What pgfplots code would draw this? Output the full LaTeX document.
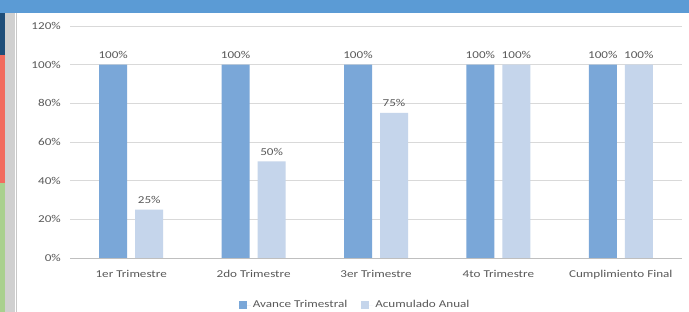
\documentclass[border=0pt]{standalone}
\usepackage{pgfplots}
\pgfplotsset{compat=1.18}
\usepackage{fontspec}
\setmainfont[FakeStretch=1.25]{Carlito}
\definecolor{darkbar}{HTML}{7AA7D8}
\definecolor{lightbar}{HTML}{C5D5EB}
\definecolor{txt}{HTML}{595959}
\definecolor{gridc}{HTML}{D9D9D9}
\definecolor{hdr}{HTML}{5B9BD5}
\definecolor{navy}{HTML}{1F4E79}
\definecolor{redstrip}{HTML}{F26B5E}
\definecolor{greenstrip}{HTML}{A9D08E}
\definecolor{greystrip}{HTML}{D0D0D0}
\definecolor{borderc}{HTML}{C8C8C8}
\definecolor{axisc}{HTML}{BFBFBF}
\begin{document}
\begin{tikzpicture}[x=1pt,y=1pt]
\useasboundingbox (0,0) rectangle (689,312);
\fill[white] (0,0) rectangle (689,312);
% screenshot decoration
\fill[hdr] (0,299) rectangle (689,312);
\fill[navy] (0,257) rectangle (5,299);
\fill[redstrip] (0,129) rectangle (5,257);
\fill[greenstrip] (0,0) rectangle (5,129);
\fill[greystrip] (5,0) rectangle (15,299);
\draw[borderc] (16,0) -- (16,299);
\begin{axis}[
  at={(70pt,54pt)}, anchor=south west,
  scale only axis, width=612pt, height=232pt,
  ybar=8pt, bar width=28pt,
  xmin=-0.5, xmax=4.5, ymin=0, ymax=120,
  xtick={0,1,2,3,4},
  xticklabels={1er Trimestre,2do Trimestre,3er Trimestre,4to Trimestre,Cumplimiento Final},
  major x tick style={draw=none},
  extra x ticks={-0.5,0.5,1.5,2.5,3.5,4.5},
  extra x tick labels={},
  extra x tick style={grid=none, major tick length=4pt, tick align=outside, tick style={draw=axisc}},
  ytick={0,20,...,120},
  yticklabel={\pgfmathprintnumber{\tick}\%},
  /pgf/number format/assume math mode=true,
  ymajorgrids, grid style={gridc, line width=0.8pt},
  major y tick style={draw=none},
  axis x line*=bottom,
  axis y line*=left,
  x axis line style={draw=axisc, line width=0.8pt, -},
  y axis line style={draw=none, -},
  ticklabel style={font=\fontsize{10.5}{12}\selectfont, text=txt},
  yticklabel style={inner sep=0pt, xshift=-9pt},
  xticklabel style={inner sep=0pt, yshift=-8pt},
  nodes near coords={\pgfmathprintnumber{\pgfplotspointmeta}\%},
  nodes near coords style={font=\fontsize{10.5}{12}\selectfont, text=txt, inner sep=0pt, yshift=6pt, /pgf/number format/assume math mode=true},
  legend style={at={(0.466,-0.203)}, anchor=center, draw=none, legend columns=2,
    font=\fontsize{10.5}{12}\selectfont, text=txt, /tikz/every even column/.append style={column sep=12pt}},
  legend image code/.code={\fill[#1] (0pt,-4pt) rectangle (8pt,4pt); \path (0pt,0pt) -- (12pt,0pt);},
  clip=false,
]
\addplot[fill=darkbar, draw=none] coordinates {(0,100) (1,100) (2,100) (3,100) (4,100)};
\addplot[fill=lightbar, draw=none] coordinates {(0,25) (1,50) (2,75) (3,100) (4,100)};
\legend{Avance Trimestral, Acumulado Anual}
\end{axis}
\end{tikzpicture}
\end{document}
